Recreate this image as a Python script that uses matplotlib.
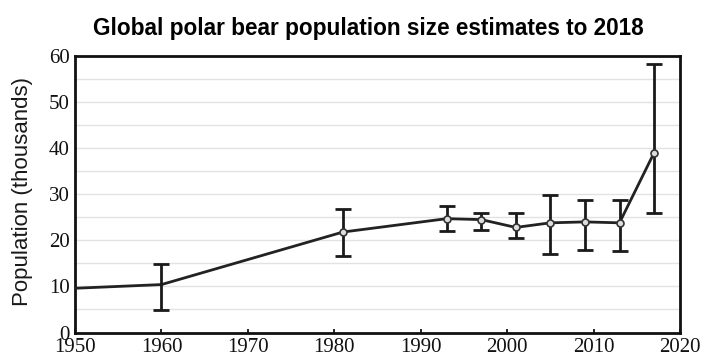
import matplotlib
matplotlib.use("Agg")
import matplotlib.pyplot as plt

# Population size estimates (thousands) with uncertainty ranges
years = [1950, 1960, 1981, 1993, 1997, 2001, 2005, 2009, 2013, 2017]
population = [9.6, 10.4, 21.8, 24.7, 24.5, 22.8, 23.8, 24.0, 23.8, 39.0]
lower = [None, 4.8, 16.7, 22.0, 22.3, 20.5, 17.1, 18.0, 17.7, 25.9]
upper = [None, 14.9, 26.7, 27.5, 25.9, 25.9, 29.9, 28.7, 28.7, 58.2]

x_ticks = [1950, 1960, 1970, 1980, 1990, 2000, 2010, 2020]
y_ticks = [0, 10, 20, 30, 40, 50, 60]

fig = plt.figure(figsize=(7.16, 3.58), dpi=100)
ax = fig.add_axes([75 / 716, 1 - 332.5 / 358, 605 / 716, 276.5 / 358])

# light horizontal grid every 5 thousand
for g in range(5, 60, 5):
    ax.axhline(g, color="#e2e2e2", lw=1.0, zorder=0)

ax.plot(years, population, color="#222222", lw=2.0, zorder=3)

ey, ev, elo, ehi = [], [], [], []
for yr, v, lo, hi in zip(years, population, lower, upper):
    if lo is None:
        continue
    ey.append(yr)
    ev.append(v)
    elo.append(v - lo)
    ehi.append(hi - v)
ax.errorbar(ey, ev, yerr=[elo, ehi], fmt="none", ecolor="#1a1a1a",
            elinewidth=2.0, capsize=6, capthick=2.0, zorder=4)
ax.plot(years[2:], population[2:], "o", ms=5, mfc="#dddddd", mec="#333333",
        mew=1.2, zorder=5)

ax.set_xlim(1950, 2020)
ax.set_ylim(0, 60)
ax.set_xticks(x_ticks)
ax.set_yticks(y_ticks)
ax.tick_params(axis="x", direction="in", length=3, width=1.2, pad=4)
ax.tick_params(axis="y", direction="in", length=0, pad=4)
for lbl in ax.get_xticklabels() + ax.get_yticklabels():
    lbl.set_fontfamily("Liberation Serif")
    lbl.set_fontsize(15)
    lbl.set_color("#111111")
for s in ax.spines.values():
    s.set_linewidth(2.0)
    s.set_color("#111111")

ax.set_ylabel("Population (thousands)", fontfamily="Liberation Sans",
              fontsize=16, color="#1a1a1a")
ax.yaxis.set_label_coords(-0.07, 0.51)
fig.text(0.514, 1 - 28 / 358, "Global polar bear population size estimates to 2018",
         ha="center", va="center", fontfamily="Liberation Sans",
         fontweight="bold", fontsize=16.3, color="#000000")

fig.savefig("out.png", dpi=100, facecolor="white")
